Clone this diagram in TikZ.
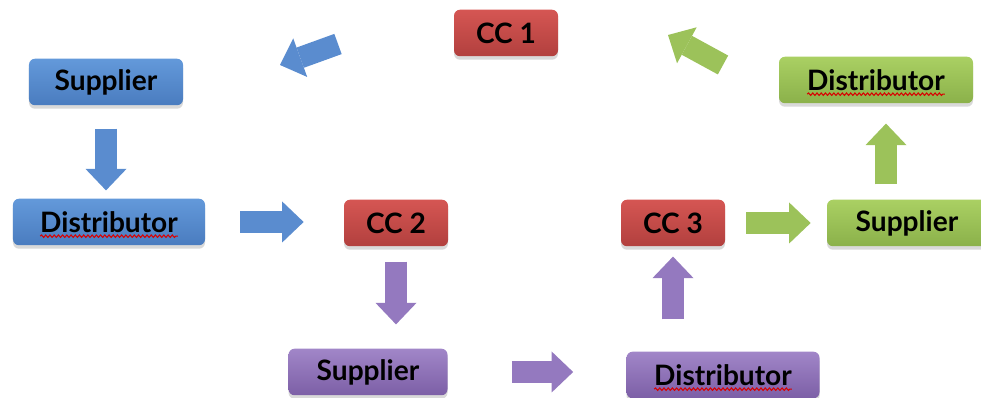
\documentclass[tikz,border=0pt]{standalone}
\usepackage{fontspec}
\setmainfont{Lato}
\usepackage{xcolor}
\usepackage{tikz}
\usetikzlibrary{arrows.meta, shadows, calc, decorations.pathmorphing}

% box colours (top / bottom of the gradient)
\definecolor{blueT}{HTML}{6399DA}
\definecolor{blueB}{HTML}{4A7CBF}
\definecolor{redT}{HTML}{D55653}
\definecolor{redB}{HTML}{B2403E}
\definecolor{greenT}{HTML}{AAD063}
\definecolor{greenB}{HTML}{8BB14A}
\definecolor{purpleT}{HTML}{A186C8}
\definecolor{purpleB}{HTML}{7C5FA6}
% arrow colours
\definecolor{blueA}{HTML}{5A8CCF}
\definecolor{greenA}{HTML}{9CC25A}
\definecolor{purpleA}{HTML}{9479BF}

\newlength\wordw

\begin{document}
\settowidth{\wordw}{\fontsize{16}{18}\selectfont\bfseries Distributor}
\begin{tikzpicture}[x=0.2mm, y=-0.2mm,
    box/.style={rounded corners=1.2mm, minimum height=9.3mm, inner sep=0pt,
        font=\fontsize{16}{18}\selectfont\bfseries,
        drop shadow={shadow xshift=0pt, shadow yshift=-0.7mm, opacity=0.3}},
    bluebox/.style={box, top color=blueT, bottom color=blueB},
    redbox/.style={box, top color=redT, bottom color=redB, minimum width=20.8mm},
    greenbox/.style={box, top color=greenT, bottom color=greenB},
    purplebox/.style={box, top color=purpleT, bottom color=purpleB},
    flow/.style={line width=4.3mm, -{Triangle[length=4.3mm, width=8.2mm, line width=0pt]}},
    spell/.style={red!85!black, line width=0.6pt, decorate, decoration={snake, amplitude=0.7pt, segment length=2.4pt}}]

    \useasboundingbox (0,0) rectangle (981,398);

    % centres
    \node[redbox] (cc1) at (506,33) {CC 1};
    \node[redbox] (cc2) at (396,223) {CC 2};
    \node[redbox] (cc3) at (673,223) {CC 3};

    % first chain
    \node[bluebox, minimum width=30.8mm] (supB) at (106,82) {Supplier};
    \node[bluebox, minimum width=38.4mm] (distB) at (109,222) {Distributor};

    % second chain
    \node[purplebox, minimum width=31.8mm] (supP) at (368,372) {Supplier};
    \node[purplebox, minimum width=38.6mm] (distP) at (723,375) {Distributor};

    % third chain
    \node[greenbox, minimum width=32mm] (supG) at (907,223) {Supplier};
    \node[greenbox, minimum width=38.8mm] (distG) at (876,80) {Distributor};

    % spell-check waves
    \foreach \dn in {distB, distP, distG}
        \draw[spell] ([xshift=-0.5\wordw, yshift=-2.2pt]\dn.base) -- ([xshift=0.5\wordw, yshift=-2.2pt]\dn.base);

    % free ends of the two slanted arrows
    \coordinate (cc1out) at (338,44);
    \coordinate (supBin) at (280,65);
    \coordinate (distGout) at (723,65);
    \coordinate (cc1in) at (668,35);

    % arrows
    \draw[flow, blueA] (cc1out) -- (supBin);
    \draw[flow, blueA, shorten <=4.6mm, shorten >=1.6mm] (supB.south) -- (supB.south |- distB.north);
    \draw[flow, blueA, shorten <=7mm, shorten >=8mm] (distB.east) -- (distB.east -| cc2.west);
    \draw[flow, purpleA, shorten <=3mm, shorten >=4.8mm] (cc2.south) -- (cc2.south |- supP.north);
    \draw[flow, purpleA, shorten <=12.8mm, shorten >=10.6mm] (supP.east) -- (supP.east -| distP.west);
    \draw[flow, purpleA, shorten <=6.4mm, shorten >=2mm] (cc3.south |- distP.north) -- (cc3.south);
    \draw[flow, greenA, shorten <=4.2mm, shorten >=3.2mm] (cc3.east) -- (cc3.east -| supG.west);
    \draw[flow, greenA, shorten <=3mm, shorten >=4mm] ([xshift=2mm]distG.south |- supG.north) -- ([xshift=2mm]distG.south);
    \draw[flow, greenA] (distGout) -- (cc1in);
\end{tikzpicture}
\end{document}
